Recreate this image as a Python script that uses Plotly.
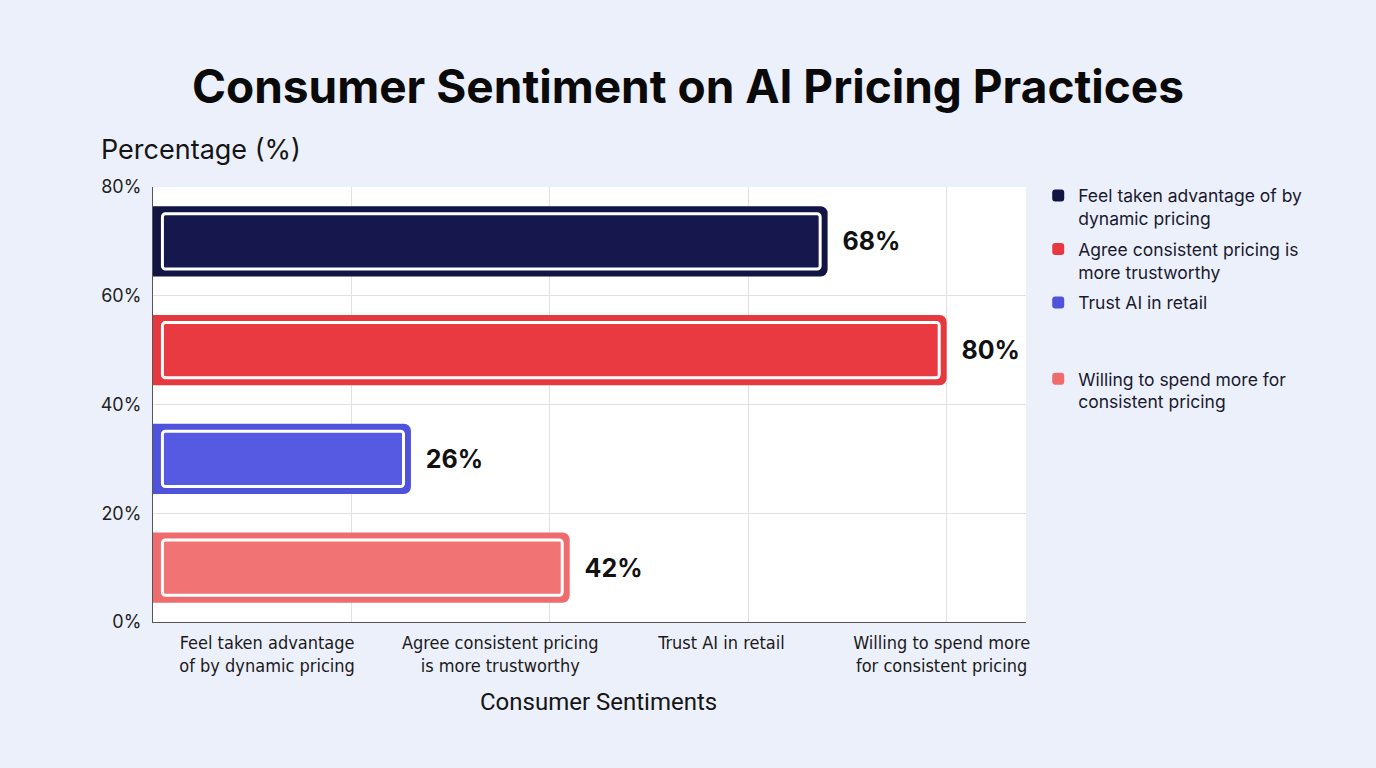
import plotly.graph_objects as go

# ---------------- data ----------------
categories = [
    "Feel taken advantage of by dynamic pricing",
    "Agree consistent pricing is more trustworthy",
    "Trust AI in retail",
    "Willing to spend more for consistent pricing",
]
values = [68, 80, 26, 42]
legend_names = [
    "Feel taken advantage of by<br>dynamic pricing",
    "Agree consistent pricing is<br>more trustworthy",
    "Trust AI in retail<br> <br> ",
    "Willing to spend more for<br>consistent pricing",
]
x_tick_labels = [
    "Feel taken advantage<br>of by dynamic pricing",
    "Agree consistent pricing<br>is more trustworthy",
    "Trust AI in retail<br> ",
    "Willing to spend more<br>for consistent pricing",
]
y_tick_vals = [0, 20, 40, 60, 80]
y_tick_labels = ["0%", "20%", "40%", "60%", "80%"]
grid_x_vals = [20, 40, 60, 80]

# ---------------- style ----------------
fill_colors = ["#15174D", "#E83A40", "#5659E2", "#F27373"]
border_colors = ["#121443", "#E5393F", "#4F53DC", "#EF6C6E"]
label_tick_pos = [11.5, 35.0, 57.3, 79.5]
X_MAX = 88
Y_MAX = 80
OUTER_W = 12.9
INNER_W = 10.2
INSET_START = 0.95
INSET_END = 0.75
BG = "#ECF0FB"

n = len(categories)
slot = Y_MAX / n
y_pos = [(n - i - 0.5) * slot for i in range(n)]

fig = go.Figure()

# outer (border) bars, carry legend + value labels
for i in range(n):
    fig.add_trace(go.Bar(
        orientation="h",
        x=[values[i]],
        y=[y_pos[i]],
        width=OUTER_W,
        marker=dict(color=border_colors[i], line=dict(width=0), cornerradius=7),
        name=legend_names[i],
        legendgroup=f"g{i}",
        showlegend=True,
        text=[f"\u00a0\u00a0{values[i]}%"],
        textposition="outside",
        textfont=dict(family="Inter", size=25, color="#111111", weight="bold"),
        cliponaxis=False,
        hoverinfo="skip",
    ))

# inner bars with white outline
for i in range(n):
    fig.add_trace(go.Bar(
        orientation="h",
        base=[INSET_START],
        x=[values[i] - INSET_START - INSET_END],
        y=[y_pos[i]],
        width=INNER_W,
        marker=dict(color=fill_colors[i], line=dict(color="white", width=3), cornerradius=3),
        legendgroup=f"g{i}",
        showlegend=False,
        hovertext=[categories[i]],
        hoverinfo="text+x",
    ))

fig.update_layout(
    width=1376,
    height=768,
    barmode="overlay",
    paper_bgcolor=BG,
    plot_bgcolor="white",
    margin=dict(l=153, r=350, t=187, b=146),
    title=dict(
        text="<b>Consumer Sentiment on AI Pricing Practices</b>",
        x=0.5, xanchor="center", xref="container",
        y=1 - 87 / 768, yanchor="middle", yref="container",
        font=dict(family="Inter", size=46, color="#0A0A0A"),
    ),
    font=dict(family="Inter", color="#222222"),
    legend=dict(
        x=1.014, xanchor="left", y=1.0215, yanchor="top",
        bgcolor="rgba(0,0,0,0)",
        font=dict(family="Inter", size=17.5, color="#1A1A2E"),
        valign="top",
        tracegroupgap=5,
        itemwidth=30,
    ),
    xaxis=dict(
        range=[0, X_MAX],
        tickvals=label_tick_pos,
        ticktext=x_tick_labels,
        tickfont=dict(family="DejaVu Sans Condensed, Roboto", size=18, color="#1A1A1A"),
        ticks="outside", ticklen=4, tickcolor="rgba(0,0,0,0)",
        showgrid=False,
        minor=dict(tickvals=grid_x_vals, showgrid=True, gridcolor="#E2E2E2", gridwidth=1, ticks=""),
        showline=True, linecolor="#555555", linewidth=1,
        zeroline=False,
        fixedrange=True,
    ),
    yaxis=dict(
        range=[0, Y_MAX],
        tickvals=y_tick_vals,
        ticktext=y_tick_labels,
        tickfont=dict(family="Inter", size=18, color="#222222"),
        ticks="outside", ticklen=7, tickcolor="rgba(0,0,0,0)",
        showgrid=True, gridcolor="#E2E2E2", gridwidth=1,
        showline=True, linecolor="#555555", linewidth=1,
        zeroline=False,
        fixedrange=True,
    ),
    annotations=[
        dict(
            text="Percentage (%)", xref="paper", yref="paper",
            x=(99 - 153) / 873, y=(622 - 150) / 435,
            xanchor="left", yanchor="middle", showarrow=False,
            font=dict(family="Inter", size=27, color="#151515"),
        ),
        dict(
            text="Consumer Sentiments", xref="paper", yref="paper",
            x=(598 - 153) / 873, y=(622 - 702) / 435,
            xanchor="center", yanchor="middle", showarrow=False,
            font=dict(family="Roboto", size=24, color="#151515"),
        ),
    ],
    showlegend=True,
)

fig.write_html("out.html")
